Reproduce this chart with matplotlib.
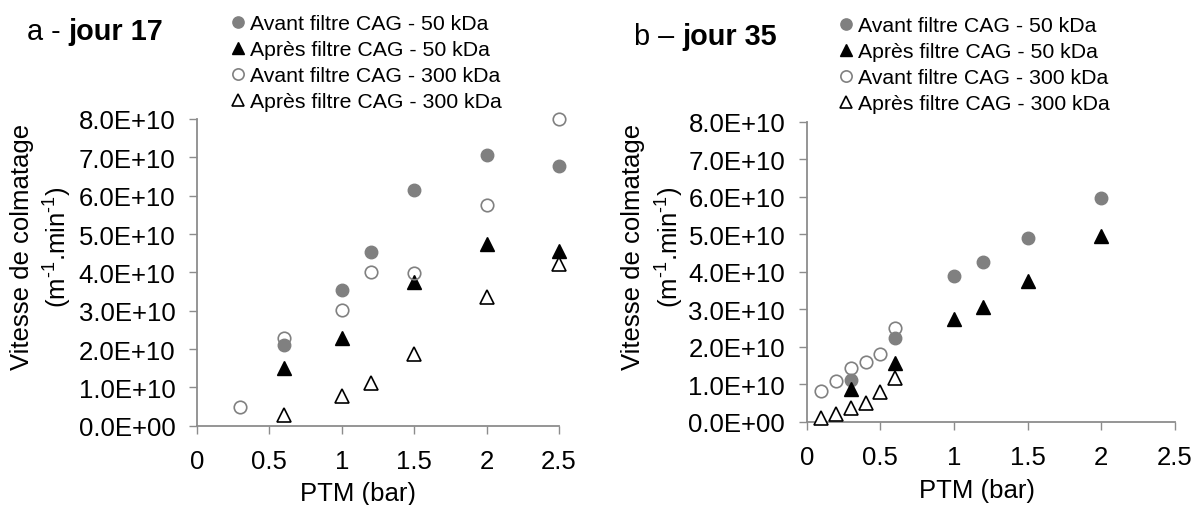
import matplotlib
matplotlib.use('Agg')
import matplotlib.pyplot as plt
from matplotlib.lines import Line2D
from matplotlib.ticker import FuncFormatter

plt.rcParams['font.family'] = ['Liberation Sans', 'DejaVu Sans']

# ---------------- data: panel a - jour 17 ----------------
a_avant50_x = [0.6, 1.0, 1.2, 1.5, 2.0, 2.5]
a_avant50_y = [2.1e10, 3.55e10, 4.53e10, 6.14e10, 7.06e10, 6.78e10]
a_apres50_x = [0.6, 1.0, 1.5, 2.0, 2.5]
a_apres50_y = [1.5e10, 2.29e10, 3.76e10, 4.74e10, 4.56e10]
a_avant300_x = [0.3, 0.6, 1.0, 1.2, 1.5, 2.0, 2.5]
a_avant300_y = [0.5e10, 2.29e10, 3.02e10, 4.0e10, 3.98e10, 5.75e10, 8.0e10]
a_apres300_x = [0.6, 1.0, 1.2, 1.5, 2.0, 2.5]
a_apres300_y = [0.29e10, 0.77e10, 1.11e10, 1.86e10, 3.36e10, 4.23e10]

# ---------------- data: panel b - jour 35 ----------------
b_avant50_x = [0.3, 0.6, 1.0, 1.2, 1.5, 2.0]
b_avant50_y = [1.12e10, 2.23e10, 3.88e10, 4.27e10, 4.89e10, 5.96e10]
b_apres50_x = [0.3, 0.6, 1.0, 1.2, 1.5, 2.0]
b_apres50_y = [0.87e10, 1.56e10, 2.74e10, 3.05e10, 3.74e10, 4.96e10]
b_avant300_x = [0.1, 0.2, 0.3, 0.4, 0.5, 0.6]
b_avant300_y = [0.83e10, 1.09e10, 1.42e10, 1.58e10, 1.8e10, 2.49e10]
b_apres300_x = [0.1, 0.2, 0.3, 0.4, 0.5, 0.6]
b_apres300_y = [0.09e10, 0.2e10, 0.36e10, 0.49e10, 0.8e10, 1.17e10]

series_labels = ["Avant filtre CAG - 50 kDa", "Après filtre CAG - 50 kDa",
                 "Avant filtre CAG - 300 kDa", "Après filtre CAG - 300 kDa"]
x_ticks = [0, 0.5, 1, 1.5, 2, 2.5]
y_ticks = [0, 1e10, 2e10, 3e10, 4e10, 5e10, 6e10, 7e10, 8e10]
x_label = 'PTM (bar)'
y_label_1 = 'Vitesse de colmatage'
y_label_2 = '(m$^{\\mathregular{\u2010 1}}$.min$^{\\mathregular{\u2010 1}}$)'

W, H = 1197, 506
fig = plt.figure(figsize=(W / 100, H / 100), dpi=100)

GRAY = '#808080'
AXC = '#8c8c8c'
FS = 18.5
FS_TITLE = 20.8
FS_LEG = 15.3

styles = [
    dict(marker='o', ms=9, mfc=GRAY, mec=GRAY, mew=1.0, ls='none'),
    dict(marker='^', ms=10, mfc='black', mec='black', mew=1.0, ls='none'),
    dict(marker='o', ms=9, mfc='none', mec=GRAY, mew=1.2, ls='none'),
    dict(marker='^', ms=10, mfc='white', mec='black', mew=1.2, ls='none'),
]


def px_box(left, right, top, bottom):
    return [left / W, 1 - bottom / H, (right - left) / W, (bottom - top) / H]


def setup(ax):
    ax.set_xlim(0, 2.5)
    ax.set_ylim(0, 8e10)
    ax.set_xticks(x_ticks)
    ax.set_yticks(y_ticks)
    ax.xaxis.set_major_formatter(FuncFormatter(lambda v, p: '%g' % v))
    ax.yaxis.set_major_formatter(FuncFormatter(lambda v, p: '%.1E' % v))
    for s in ['top', 'right']:
        ax.spines[s].set_visible(False)
    for s in ['left', 'bottom']:
        ax.spines[s].set_color(AXC)
        ax.spines[s].set_linewidth(1.3)
    ax.tick_params(axis='both', direction='out', length=6, width=1.0,
                   color=AXC, labelsize=FS, labelcolor='black')
    ax.tick_params(axis='x', pad=11)
    ax.tick_params(axis='y', pad=9.5)
    ax.patch.set_alpha(0)


def draw(ax, data):
    for i in [2, 0, 1, 3]:
        x, y = data[i]
        ax.plot(x, y, clip_on=False, zorder=3 + i, **styles[i])


ax1 = fig.add_axes(px_box(197, 559, 120, 426.7))
setup(ax1)
draw(ax1, [(a_avant50_x, a_avant50_y), (a_apres50_x, a_apres50_y),
           (a_avant300_x, a_avant300_y), (a_apres300_x, a_apres300_y)])

ax2 = fig.add_axes(px_box(806.7, 1175, 122.7, 422.7))
setup(ax2)
draw(ax2, [(b_avant50_x, b_avant50_y), (b_apres50_x, b_apres50_y),
           (b_avant300_x, b_avant300_y), (b_apres300_x, b_apres300_y)])

# axis labels
for cx, cy in [(358, 494), (977, 491)]:
    fig.text(cx / W, 1 - cy / H, x_label, ha='center', va='center', fontsize=FS)

for x1, x2, cy in [(22.5, 57, 247), (633, 669, 247)]:
    fig.text(x1 / W, 1 - cy / H, y_label_1, rotation=90,
             ha='center', va='center', fontsize=FS)
    fig.text(x2 / W, 1 - cy / H, y_label_2, rotation=90,
             ha='center', va='center', fontsize=FS)

# titles: regular prefix + bold part
for ax, tx, ty, pre, bold in [(ax1, 27, 40, 'a - ', 'jour 17'),
                              (ax2, 634, 45, 'b \u2013 ', 'jour 35')]:
    t = fig.text(tx / W, 1 - ty / H, pre, ha='left', va='baseline', fontsize=FS_TITLE)
    ax.annotate(bold, xy=(1, 0), xycoords=t, ha='left', va='bottom',
                fontsize=FS_TITLE, fontweight='bold', annotation_clip=False)

# legends
fs_px = FS_LEG * 100 / 72
hl = 0.8
handles = [Line2D([], [], **dict(styles[i], ms=styles[i]['ms'] * 0.9)) for i in range(4)]
for ax, mcx, txs, top in [(ax1, 238, 250, 15), (ax2, 846, 858, 17)]:
    left = mcx - hl * fs_px / 2
    htp = (txs - left - hl * fs_px) / fs_px
    ax.legend(handles, series_labels, loc='upper left',
              bbox_to_anchor=(left / W, 1 - top / H), bbox_transform=fig.transFigure,
              frameon=False, fontsize=FS_LEG, handlelength=hl, handletextpad=htp,
              labelspacing=0.33, borderpad=0, borderaxespad=0)

fig.savefig('out.png', dpi=100)
